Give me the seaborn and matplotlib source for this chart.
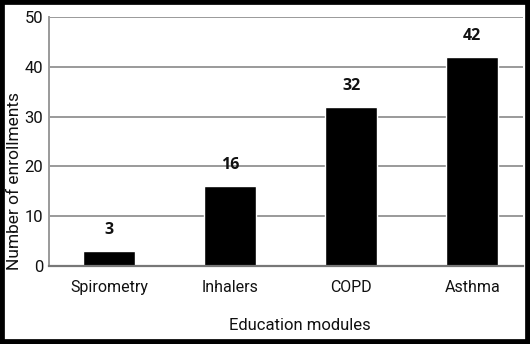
import matplotlib
matplotlib.use("Agg")
import matplotlib.pyplot as plt
import seaborn as sns
import pandas as pd
from matplotlib.patches import Rectangle

modules = ["Spirometry", "Inhalers", "COPD", "Asthma"]
enrollments = [3, 16, 32, 42]
yticks = [0, 10, 20, 30, 40, 50]

df = pd.DataFrame({"module": modules, "count": enrollments})

sns.set_style("white")
plt.rcParams["font.family"] = ["Roboto", "DejaVu Sans"]

fig = plt.figure(figsize=(5.3, 3.44), dpi=100)
fig.patch.set_facecolor("white")
ax = fig.add_axes([0.0925, 0.2267, 0.8945, 0.7239])

grid_col = "#9a9a9a"
ax.set_axisbelow(True)
for t in yticks[1:]:
    ax.axhline(t, color=grid_col, lw=1.4, zorder=0)

sns.barplot(data=df, x="module", y="count", color="black", width=0.43,
            saturation=1, ax=ax, zorder=2)

for i, v in enumerate(enrollments):
    ax.text(i, v + 2.6, str(v), ha="center", va="bottom", fontsize=11.5,
            fontweight="bold", family=["Open Sans", "DejaVu Sans"], color="#111")

ax.set_ylim(0, 50)
ax.set_xlim(-0.5, 3.42)
ax.set_yticks(yticks)
ax.tick_params(axis="y", labelsize=12, length=0, pad=4, labelcolor="#111")
ax.tick_params(axis="x", labelsize=11.5, length=0, pad=10, labelcolor="#111")

for side in ["top", "right"]:
    ax.spines[side].set_visible(False)
ax.spines["left"].set_color(grid_col)
ax.spines["left"].set_linewidth(1.4)
ax.spines["bottom"].set_color("#777")
ax.spines["bottom"].set_linewidth(1.6)

ax.set_xlabel("Education modules", fontsize=12, color="#111", labelpad=10)
ax.set_ylabel("Number of enrollments", fontsize=12.5, color="#111")
ax.xaxis.set_label_coords(0.53, -0.21)
ax.yaxis.set_label_coords(-0.058, 0.34)

# black frame round the picture
fig.patches.append(Rectangle((0, 0), 1, 1, transform=fig.transFigure,
                             fill=False, edgecolor="black", lw=7, zorder=10))

plt.savefig("out.png", dpi=100)
